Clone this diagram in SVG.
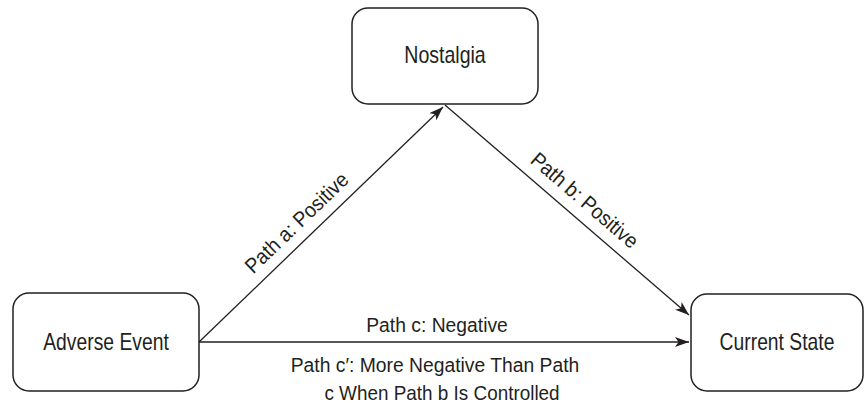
<svg xmlns="http://www.w3.org/2000/svg" width="865" height="404" viewBox="0 0 865 404">
<style>
.box{fill:#fff;stroke:#231f20;stroke-width:1.5}
.lbl{font-family:"Liberation Sans",Arial,sans-serif;font-size:23px;fill:#231f20;text-anchor:middle}
.el{font-family:"Liberation Sans",Arial,sans-serif;font-size:21px;fill:#231f20;text-anchor:middle}
.con{stroke:#231f20;stroke-width:1.3;fill:none;marker-end:url(#ah)}
</style>
<defs>
<marker id="ah" viewBox="0 0 14 10" refX="14" refY="5" markerWidth="14" markerHeight="10" markerUnits="userSpaceOnUse" orient="auto">
<path d="M0,0 L14,5 L0,10 L3.5,5 Z" fill="#231f20"/>
</marker>
</defs>
<rect width="865" height="404" fill="#fff"/>
<g id="connectors">
<line class="con" x1="199" y1="342" x2="443" y2="107"/>
<line class="con" x1="445" y1="105" x2="689" y2="315"/>
<line class="con" x1="199" y1="342" x2="689" y2="342"/>
<text class="el" transform="translate(301.6,227.9) rotate(-43.9) scale(0.92,1)">Path a: Positive</text>
<text class="el" transform="translate(580,205.7) rotate(40.7) scale(0.92,1)">Path b: Positive</text>
<text class="el" transform="translate(437,332) scale(0.92,1)">Path c: Negative</text>
<text class="el" transform="translate(435,372) scale(0.92,1)">Path c′: More Negative Than Path</text>
<text class="el" transform="translate(442,400) scale(0.9,1)">c When Path b Is Controlled</text>
</g>
<g id="nostalgia">
<rect class="box" x="352" y="8" width="186" height="96" rx="16"/>
<text class="lbl" transform="translate(445,63) scale(0.85,1)">Nostalgia</text>
</g>
<g id="adverse-event">
<rect class="box" x="13" y="293" width="186" height="98" rx="16"/>
<text class="lbl" transform="translate(106,350) scale(0.84,1)">Adverse Event</text>
</g>
<g id="current-state">
<rect class="box" x="691" y="294" width="172" height="97" rx="16"/>
<text class="lbl" transform="translate(777,350) scale(0.84,1)">Current State</text>
</g>
</svg>
